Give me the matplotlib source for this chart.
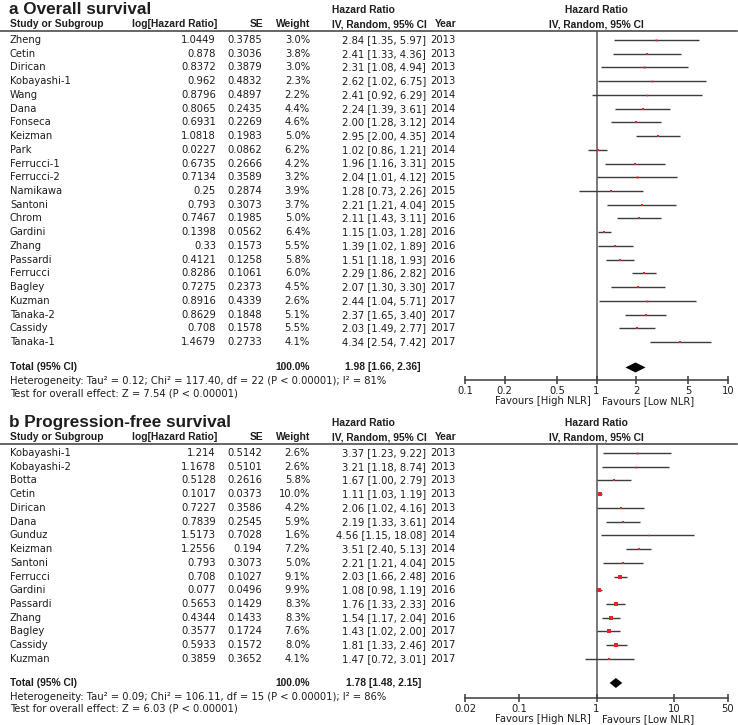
import matplotlib
matplotlib.use("Agg")
import matplotlib.pyplot as plt

plt.rcParams["font.family"] = ["DejaVu Sans"]

W, H = 738, 725
TXT = "#1e1e1e"
LINE = "#3c3c3c"
RED = "#e3262b"
FS = 7.2
BOLD_FONT = ["Liberation Sans", "DejaVu Sans"]

# ---- a: overall survival ----
os_study = ["Zheng", "Cetin", "Dirican", "Kobayashi-1", "Wang", "Dana", "Fonseca", "Keizman",
            "Park", "Ferrucci-1", "Ferrucci-2", "Namikawa", "Santoni", "Chrom", "Gardini",
            "Zhang", "Passardi", "Ferrucci", "Bagley", "Kuzman", "Tanaka-2", "Cassidy", "Tanaka-1"]
os_loghr = [1.0449, 0.878, 0.8372, 0.962, 0.8796, 0.8065, 0.6931, 1.0818, 0.0227, 0.6735, 0.7134,
            0.25, 0.793, 0.7467, 0.1398, 0.33, 0.4121, 0.8286, 0.7275, 0.8916, 0.8629, 0.708, 1.4679]
os_se = [0.3785, 0.3036, 0.3879, 0.4832, 0.4897, 0.2435, 0.2269, 0.1983, 0.0862, 0.2666, 0.3589,
         0.2874, 0.3073, 0.1985, 0.0562, 0.1573, 0.1258, 0.1061, 0.2373, 0.4339, 0.1848, 0.1578, 0.2733]
os_weight = [3.0, 3.8, 3.0, 2.3, 2.2, 4.4, 4.6, 5.0, 6.2, 4.2, 3.2, 3.9, 3.7, 5.0, 6.4, 5.5, 5.8,
             6.0, 4.5, 2.6, 5.1, 5.5, 4.1]
os_hr = [2.84, 2.41, 2.31, 2.62, 2.41, 2.24, 2.00, 2.95, 1.02, 1.96, 2.04, 1.28, 2.21, 2.11, 1.15,
         1.39, 1.51, 2.29, 2.07, 2.44, 2.37, 2.03, 4.34]
os_lo = [1.35, 1.33, 1.08, 1.02, 0.92, 1.39, 1.28, 2.00, 0.86, 1.16, 1.01, 0.73, 1.21, 1.43, 1.03,
         1.02, 1.18, 1.86, 1.30, 1.04, 1.65, 1.49, 2.54]
os_hi = [5.97, 4.36, 4.94, 6.75, 6.29, 3.61, 3.12, 4.35, 1.21, 3.31, 4.12, 2.26, 4.04, 3.11, 1.28,
         1.89, 1.93, 2.82, 3.30, 5.71, 3.40, 2.77, 7.42]
os_year = [2013, 2013, 2013, 2013, 2014, 2014, 2014, 2014, 2014, 2015, 2015, 2015, 2015, 2016,
           2016, 2016, 2016, 2016, 2017, 2017, 2017, 2017, 2017]
os_total = [1.98, 1.66, 2.36]
os_het = "Heterogeneity: Tau² = 0.12; Chi² = 117.40, df = 22 (P < 0.00001); I² = 81%"
os_test = "Test for overall effect: Z = 7.54 (P < 0.00001)"
os_ticks = [0.1, 0.2, 0.5, 1, 2, 5, 10]
os_ticklabels = ["0.1", "0.2", "0.5", "1", "2", "5", "10"]

# ---- b: progression-free survival ----
pfs_study = ["Kobayashi-1", "Kobayashi-2", "Botta", "Cetin", "Dirican", "Dana", "Gunduz", "Keizman",
             "Santoni", "Ferrucci", "Gardini", "Passardi", "Zhang", "Bagley", "Cassidy", "Kuzman"]
pfs_loghr = [1.214, 1.1678, 0.5128, 0.1017, 0.7227, 0.7839, 1.5173, 1.2556, 0.793, 0.708, 0.077,
             0.5653, 0.4344, 0.3577, 0.5933, 0.3859]
pfs_se = [0.5142, 0.5101, 0.2616, 0.0373, 0.3586, 0.2545, 0.7028, 0.194, 0.3073, 0.1027, 0.0496,
          0.1429, 0.1433, 0.1724, 0.1572, 0.3652]
pfs_weight = [2.6, 2.6, 5.8, 10.0, 4.2, 5.9, 1.6, 7.2, 5.0, 9.1, 9.9, 8.3, 8.3, 7.6, 8.0, 4.1]
pfs_hr = [3.37, 3.21, 1.67, 1.11, 2.06, 2.19, 4.56, 3.51, 2.21, 2.03, 1.08, 1.76, 1.54, 1.43, 1.81, 1.47]
pfs_lo = [1.23, 1.18, 1.00, 1.03, 1.02, 1.33, 1.15, 2.40, 1.21, 1.66, 0.98, 1.33, 1.17, 1.02, 1.33, 0.72]
pfs_hi = [9.22, 8.74, 2.79, 1.19, 4.16, 3.61, 18.08, 5.13, 4.04, 2.48, 1.19, 2.33, 2.04, 2.00, 2.46, 3.01]
pfs_year = [2013, 2013, 2013, 2013, 2013, 2014, 2014, 2014, 2015, 2016, 2016, 2016, 2016, 2017,
            2017, 2017]
pfs_total = [1.78, 1.48, 2.15]
pfs_het = "Heterogeneity: Tau² = 0.09; Chi² = 106.11, df = 15 (P < 0.00001); I² = 86%"
pfs_test = "Test for overall effect: Z = 6.03 (P < 0.00001)"
pfs_ticks = [0.02, 0.1, 1, 10, 50]
pfs_ticklabels = ["0.02", "0.1", "1", "10", "50"]


def txt(ax, x, y, s, ha="left", bold=False, size=FS):
    t = ax.text(x, y, s, ha=ha, va="center", fontsize=size, color=TXT,
                fontweight="bold" if bold else "normal")
    if bold:
        # bold DejaVu is far wider than the original's bold face
        t.set_fontfamily(BOLD_FONT)
        if size == FS:
            t.set_fontsize(7.4)
    return t


def draw_panel(fig, bg, title, top, axis_y, total_gap, study, loghr, se, weight, hr, lo, hi,
               year, total, het, test, ticks, ticklabels):
    step = 13.73
    line_y = top + 21
    row0 = top + 30
    txt(bg, 9, top - 1, title, bold=True, size=12.3)

    txt(bg, 332, top, "Hazard Ratio", bold=True)
    txt(bg, 596, top, "Hazard Ratio", ha="center", bold=True)
    h2 = top + 14
    txt(bg, 10, h2, "Study or Subgroup", bold=True)
    txt(bg, 217, h2, "log[Hazard Ratio]", ha="right", bold=True)
    txt(bg, 263, h2, "SE", ha="right", bold=True)
    txt(bg, 310, h2, "Weight", ha="right", bold=True)
    txt(bg, 332, h2, "IV, Random, 95% CI", bold=True)
    txt(bg, 457, h2, "Year", ha="right", bold=True)
    txt(bg, 596, h2, "IV, Random, 95% CI", ha="center", bold=True)
    bg.plot([0, 737], [line_y, line_y], color=LINE, lw=1.1)

    ys = [row0 + i * step for i in range(len(study))]
    for i, y in enumerate(ys):
        txt(bg, 10, y, study[i])
        txt(bg, 216, y, str(loghr[i]), ha="right")
        txt(bg, 262, y, str(se[i]), ha="right")
        txt(bg, 310, y, f"{weight[i]:.1f}%", ha="right")
        txt(bg, 426, y, f"{hr[i]:.2f} [{lo[i]:.2f}, {hi[i]:.2f}]", ha="right")
        txt(bg, 430, y, str(year[i]))

    ty = ys[-1] + total_gap * step
    txt(bg, 10, ty, "Total (95% CI)", bold=True)
    txt(bg, 310, ty, "100.0%", ha="right", bold=True)
    txt(bg, 421, ty, f"{total[0]:.2f} [{total[1]:.2f}, {total[2]:.2f}]", ha="right", bold=True)
    txt(bg, 10, ty + 14, het)
    txt(bg, 10, ty + 26, test)

    x0, x1 = 465, 728
    ax = fig.add_axes([x0 / W, 1 - axis_y / H, (x1 - x0) / W, (axis_y - line_y) / H])
    ax.set_xscale("log")
    ax.set_xlim(ticks[0], ticks[-1])
    ax.set_ylim(axis_y, line_y)
    ax.patch.set_alpha(0)
    for s in ("top", "left", "right"):
        ax.spines[s].set_visible(False)
    ax.spines["bottom"].set_color(LINE)
    ax.spines["bottom"].set_linewidth(1.1)
    ax.set_yticks([])
    ax.set_xticks(ticks)
    ax.set_xticklabels(ticklabels)
    ax.minorticks_off()
    ax.tick_params(axis="x", direction="inout", length=6, width=1.1, color=LINE, pad=1,
                   labelsize=FS, labelcolor=TXT)
    ax.axvline(1, color="#555555", lw=1.1, zorder=1)

    ax.hlines(ys, lo, hi, color=LINE, lw=1.0, zorder=2)
    for i, y in enumerate(ys):
        ax.plot(hr[i], y, "s", color=RED, ms=0.8 * weight[i] ** 0.5, mew=0, zorder=3)
    ax.fill([total[1], total[0], total[2], total[0]], [ty, ty - 5, ty, ty + 5],
            color="black", lw=0, zorder=3)

    fy = axis_y + 21
    txt(bg, 591, fy, "Favours [High NLR]", ha="right")
    txt(bg, 602, fy, "Favours [Low NLR]")


fig = plt.figure(figsize=(W / 100, H / 100), dpi=100)
bg = fig.add_axes([0, 0, 1, 1])
bg.set_xlim(0, W)
bg.set_ylim(H, 0)
bg.axis("off")

draw_panel(fig, bg, "a Overall survival", 10, 380, 1.85, os_study, os_loghr, os_se, os_weight,
           os_hr, os_lo, os_hi, os_year, os_total, os_het, os_test, os_ticks, os_ticklabels)
draw_panel(fig, bg, "b Progression-free survival", 423, 698, 1.75, pfs_study, pfs_loghr, pfs_se,
           pfs_weight, pfs_hr, pfs_lo, pfs_hi, pfs_year, pfs_total, pfs_het, pfs_test,
           pfs_ticks, pfs_ticklabels)

fig.savefig("out.png", dpi=100)
